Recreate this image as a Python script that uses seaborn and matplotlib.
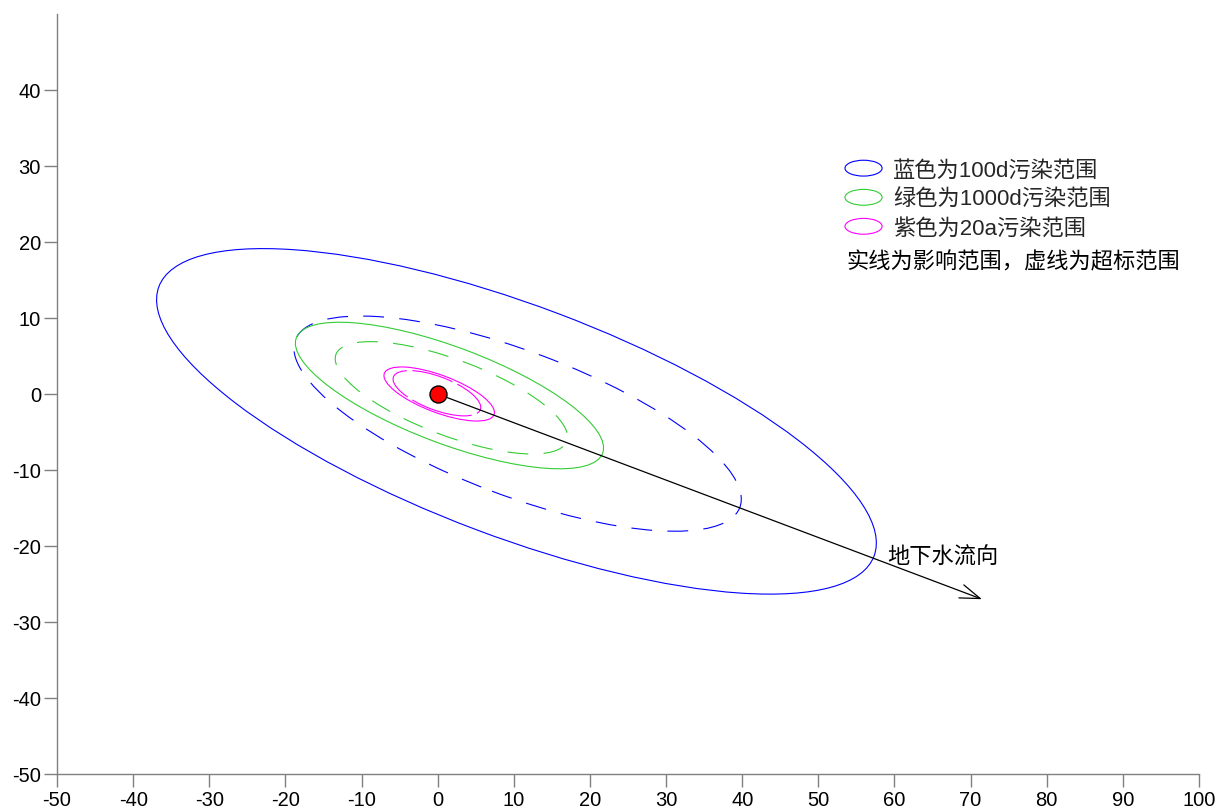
import numpy as np
import pandas as pd
import seaborn as sns
import matplotlib
matplotlib.use("Agg")
import matplotlib.pyplot as plt
from matplotlib.patches import Ellipse
from matplotlib.legend_handler import HandlerPatch

# Groundwater flow direction (end point of the arrow drawn from the source)
flow_end = (71.5, -27.0)
source_point = (0.0, 0.0)

# Plume outlines: label, colour, centre and semi-axes along / across the flow
plume_names = ["100d影响", "100d超标", "1000d影响", "1000d超标", "20a影响", "20a超标"]
plume_colors = ["#0000FF", "#0000FF", "#33CC33", "#33CC33", "#FF00FF", "#FF00FF"]
plume_dashed = [False, True, False, True, False, True]
plume_cx = [10.35, 10.5, 1.55, 1.8, 0.2, -0.1]
plume_cy = [-3.6, -3.9, -0.2, -0.5, 0.0, 0.1]
plume_major = [50.2, 31.2, 21.5, 16.2, 7.7, 6.1]
plume_minor = [15.2, 9.5, 6.35, 5.0, 2.45, 2.2]

legend_labels = ["蓝色为100d污染范围", "绿色为1000d污染范围", "紫色为20a污染范围"]
legend_colors = ["#0000FF", "#33CC33", "#FF00FF"]
note_text = "实线为影响范围，虚线为超标范围"
flow_text = "地下水流向"

x_ticks = list(range(-50, 101, 10))
y_ticks = list(range(-50, 41, 10))

sns.set_theme(style="white")
plt.rcParams["font.family"] = ["Liberation Sans", "Noto Sans CJK SC", "DejaVu Sans"]
plt.rcParams["axes.unicode_minus"] = False

fig = plt.figure(figsize=(12.19, 8.12), dpi=100)
ax = fig.add_axes([57 / 1219, 37 / 812, 1142 / 1219, 760 / 812])

angle = np.degrees(np.arctan2(flow_end[1], flow_end[0]))

lw = 0.8
for cx, cy, a, b, col, dashed in zip(plume_cx, plume_cy, plume_major, plume_minor,
                                     plume_colors, plume_dashed):
    if dashed:
        if col == "#FF00FF":
            ls = (0, (30 / lw, 4 / lw))
        else:
            ls = (0, (15 / lw, 11 / lw))
    else:
        ls = "-"
    ax.add_patch(Ellipse((cx, cy), 2 * a, 2 * b, angle=angle, fill=False,
                         edgecolor=col, linewidth=lw, linestyle=ls))

# Flow direction arrow
ax.annotate("", xy=flow_end, xytext=source_point,
            arrowprops=dict(arrowstyle="->,head_length=1.45,head_width=0.5",
                            color="black", lw=0.9, shrinkA=0, shrinkB=0,
                            mutation_scale=10))
ax.text(59.0, -21.4, flow_text, fontsize=16, va="center", ha="left", color="black")

# Pollution source
src = pd.DataFrame({"x": [source_point[0]], "y": [source_point[1]]})
sns.scatterplot(data=src, x="x", y="y", ax=ax, s=150, color="#FF0000",
                edgecolor="black", linewidth=1.0, zorder=5)

ax.set_xlim(-50, 100)
ax.set_ylim(-50, 50)
ax.set_aspect("auto")
ax.set_xticks(x_ticks)
ax.set_yticks(y_ticks)
ax.set_xlabel("")
ax.set_ylabel("")
for side in ["top", "right"]:
    ax.spines[side].set_visible(False)
for side in ["left", "bottom"]:
    ax.spines[side].set_color("#808080")
    ax.spines[side].set_linewidth(1.0)
ax.tick_params(axis="both", direction="out", length=9.5, width=1.0,
               color="#808080", labelsize=14.5, labelcolor="black", pad=2)
ax.tick_params(axis="y", left=True)
ax.tick_params(axis="x", bottom=True)


class HandlerEllipse(HandlerPatch):
    def create_artists(self, legend, orig_handle, xdescent, ydescent, width,
                       height, fontsize, trans):
        e = Ellipse(xy=(0.5 * width - xdescent, 0.5 * height - ydescent),
                    width=width, height=height, fill=False,
                    edgecolor=orig_handle.get_edgecolor(), linewidth=lw)
        e.set_transform(trans)
        return [e]


handles = [Ellipse((0, 0), 1, 1, fill=False, edgecolor=c) for c in legend_colors]
ax.legend(handles, legend_labels, handler_map={Ellipse: HandlerEllipse()},
          loc="upper left", bbox_to_anchor=(0.690, 0.808), frameon=False,
          fontsize=16, borderpad=0, borderaxespad=0, handlelength=1.67,
          handleheight=0.72, handletextpad=0.5, labelspacing=0.36)
ax.text(0.6917, 0.6737, note_text, transform=ax.transAxes, fontsize=16,
        va="center", ha="left", color="black")

fig.savefig("out.png", dpi=100, facecolor="white")
